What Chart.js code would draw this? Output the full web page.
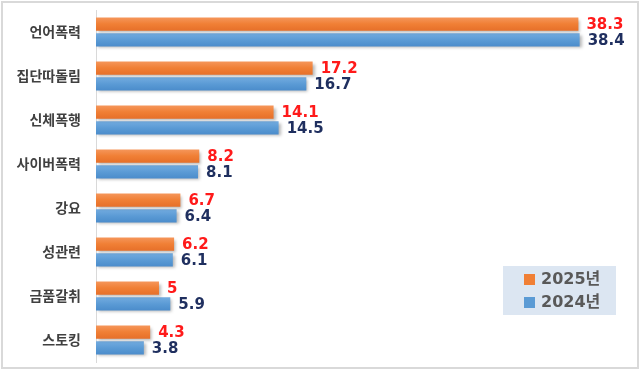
<!DOCTYPE html>
<html>
<head>
<meta charset="utf-8">
<script src="https://cdn.jsdelivr.net/npm/chart.js@4"></script>
<style>
    body { margin: 0; background: #fff; }
    #wrap { position: relative; width: 640px; height: 370px; }
    #frame { position: absolute; left: 1px; top: 1px; width: 634px; height: 364px; border: 2px solid #d9d9d9; pointer-events: none; }
</style>
</head>
<body>
<div id="wrap">
    <canvas id="myBarChart" width="640" height="370"></canvas>
    <div id="frame"></div>
</div>
<script>
const categories = ['언어폭력', '집단따돌림', '신체폭행', '사이버폭력', '강요', '성관련', '금품갈취', '스토킹'];
const values2025 = [38.3, 17.2, 14.1, 8.2, 6.7, 6.2, 5, 4.3];
const values2024 = [38.4, 16.7, 14.5, 8.1, 6.4, 6.1, 5.9, 3.8];
const seriesLabels = ['2025년', '2024년'];

const numFont = 'bold 15px "DejaVu Sans", "Noto Sans CJK KR", sans-serif';
const labelColors = ['#ff1a1a', '#1f2f5f'];
const barColors = [
    { solid: '#f07f35', top: '#f5965a', bottom: '#e6702a' },
    { solid: '#5b9bd5', top: '#73abe0', bottom: '#4b8ccb' }
];

// vertical gradient per bar, once the bars have positions
function barFill(context) {
    const c = barColors[context.datasetIndex];
    const meta = context.chart.getDatasetMeta(context.datasetIndex);
    const el = meta.data[context.dataIndex];
    if (!el || !el.height) return c.solid;
    const g = context.chart.ctx.createLinearGradient(0, el.y - el.height / 2, 0, el.y + el.height / 2);
    g.addColorStop(0, c.top);
    g.addColorStop(0.5, c.solid);
    g.addColorStop(1, c.bottom);
    return g;
}

// Value labels at the end of each bar, plus drop shadow on bars
const barExtras = {
    id: 'barExtras',
    beforeDatasetsDraw(chart) {
        const ctx = chart.ctx;
        ctx.save();
        ctx.shadowColor = 'rgba(0,0,0,0.28)';
        ctx.shadowOffsetX = 2;
        ctx.shadowOffsetY = 2;
        ctx.shadowBlur = 3;
    },
    afterDatasetsDraw(chart) {
        const ctx = chart.ctx;
        ctx.restore();
        ctx.save();
        ctx.font = numFont;
        ctx.textAlign = 'left';
        ctx.textBaseline = 'middle';
        chart.data.datasets.forEach((ds, i) => {
            const meta = chart.getDatasetMeta(i);
            ctx.fillStyle = labelColors[i];
            meta.data.forEach((bar, j) => {
                ctx.fillText(String(ds.data[j]), bar.x + 8, bar.y + 1);
            });
        });
        ctx.restore();
    }
};

// Legend box inside the plot, lower right
const boxLegend = {
    id: 'boxLegend',
    afterDraw(chart) {
        const ctx = chart.ctx;
        const x = 503, y = 266, w = 113, h = 49;
        ctx.save();
        ctx.fillStyle = '#dce6f2';
        ctx.fillRect(x, y, w, h);
        chart.data.datasets.forEach((ds, i) => {
            const cy = y + 13 + i * 23;
            ctx.fillStyle = barColors[i].solid;
            ctx.fillRect(x + 21, cy - 5, 11, 11);
            ctx.fillStyle = '#595959';
            ctx.font = 'bold 16px "DejaVu Sans", "Noto Sans CJK KR", sans-serif';
            ctx.textBaseline = 'middle';
            ctx.fillText(ds.label, x + 38, cy + 1);
        });
        ctx.restore();
    }
};

const ctxBar = document.getElementById('myBarChart').getContext('2d');

const barConfig = {
    type: 'bar',
    data: {
        labels: categories,
        datasets: [{
            label: seriesLabels[0],
            data: values2025,
            backgroundColor: barFill,
            categoryPercentage: 0.72,
            barPercentage: 0.83
        }, {
            label: seriesLabels[1],
            data: values2024,
            backgroundColor: barFill,
            categoryPercentage: 0.72,
            barPercentage: 0.83
        }]
    },
    options: {
        indexAxis: 'y',
        responsive: false,
        animation: false,
        layout: {
            padding: { left: 0, right: 15, top: 10, bottom: 8 }
        },
        plugins: {
            legend: { display: false },
            tooltip: { enabled: false }
        },
        scales: {
            x: {
                display: false,
                min: 0,
                max: 42
            },
            y: {
                afterFit(scale) {
                    scale.width = 96;
                    scale.paddingTop = 0;
                    scale.paddingBottom = 0;
                },
                grid: { display: false, drawTicks: false },
                border: { display: true, color: '#d9d9d9', width: 1 },
                ticks: {
                    padding: 15,
                    color: '#404040',
                    font: { family: '"Noto Sans CJK KR", sans-serif', size: 14, weight: 'bold' }
                }
            }
        }
    },
    plugins: [barExtras, boxLegend]
};

const myBarChart = new Chart(ctxBar, barConfig);
// second pass so the gradients pick up the bar positions
myBarChart.update();
</script>
</body>
</html>
